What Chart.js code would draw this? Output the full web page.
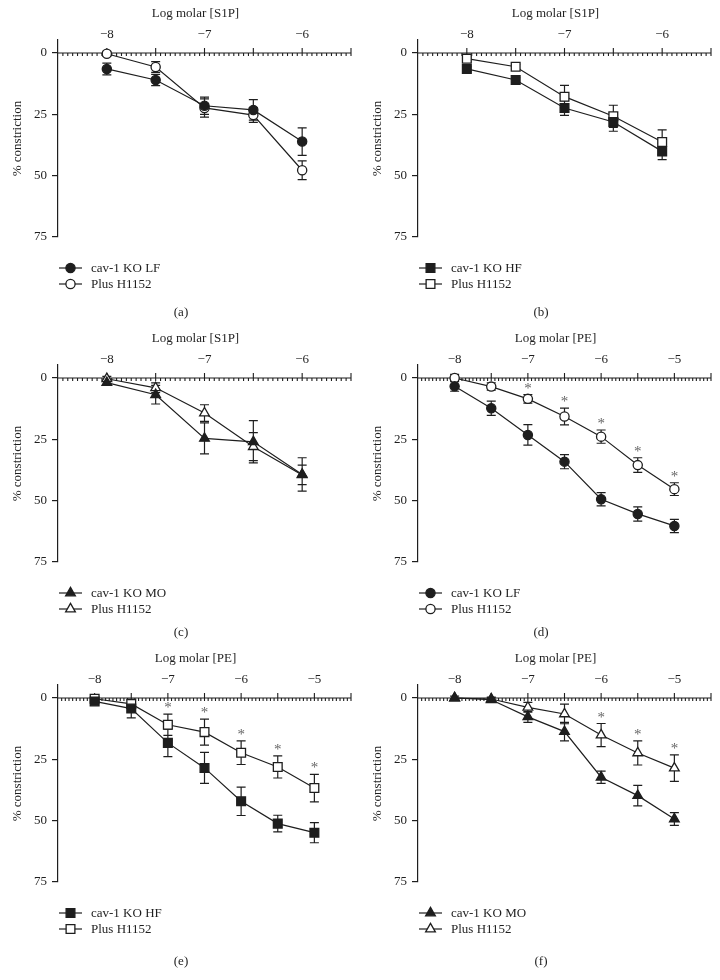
<!DOCTYPE html>
<html>
<head>
<meta charset="utf-8">
<script src="https://cdn.jsdelivr.net/npm/chart.js@4.4.0/dist/chart.umd.min.js"></script>
<style>
  body { margin: 0; background: #fff; }
  #wrap { position: relative; width: 720px; height: 980px; overflow: hidden; }
  #wrap canvas { position: absolute; }
</style>
</head>
<body>
<div id="wrap">
  <canvas id="a" width="360" height="330" style="left:0;top:0"></canvas>
  <canvas id="b" width="360" height="330" style="left:360px;top:0"></canvas>
  <canvas id="c" width="360" height="330" style="left:0;top:325px"></canvas>
  <canvas id="d" width="360" height="330" style="left:360px;top:325px"></canvas>
  <canvas id="e" width="360" height="330" style="left:0;top:645px"></canvas>
  <canvas id="f" width="360" height="330" style="left:360px;top:645px"></canvas>
</div>
<script>
// doses (log molar) and axis labels
const doseS1P = [-8, -7.5, -7, -6.5, -6];
const dosePE = [-8, -7.5, -7, -6.5, -6, -5.5, -5];
const labelsS1P = [-8, -7, -6];
const labelsPE = [-8, -7, -6, -5];
const yTicks = [0, 25, 50, 75];

// (a) S1P, LF
const aLF = [6.5, 11.0, 21.5, 23.2, 36.1];
const aLFErr = [2.4, 2.3, 3.5, 4.2, 5.6];
const aPlus = [0.3, 5.7, 22.4, 25.3, 47.8];
const aPlusErr = [1.0, 2.2, 3.7, 3.0, 3.8];

// (b) S1P, HF
const bHF = [6.5, 11.0, 22.4, 28.1, 40.1];
const bHFErr = [1.0, 1.0, 3.0, 3.8, 3.4];
const bPlus = [2.3, 5.6, 17.8, 25.8, 36.3];
const bPlusErr = [1.0, 1.0, 4.6, 4.5, 5.0];

// (c) S1P, MO
const cMO = [1.9, 6.8, 24.6, 26.0, 39.3];
const cMOErr = [1.0, 3.8, 6.3, 8.6, 6.8];
const cPlus = [0.3, 4.0, 14.3, 28.0, 39.5];
const cPlusErr = [1.0, 2.0, 3.4, 5.7, 4.0];

// (d) PE, LF
const dLF = [3.4, 12.3, 23.2, 34.1, 49.4, 55.4, 60.3];
const dLFErr = [2.0, 2.9, 4.2, 2.9, 2.7, 2.9, 2.7];
const dPlus = [0.0, 3.5, 8.5, 15.7, 23.9, 35.5, 45.3];
const dPlusErr = [1.5, 1.5, 1.7, 3.4, 2.7, 3.0, 2.6];
const dStars = [false, false, true, true, true, true, true];

// (e) PE, HF
const eHF = [1.4, 4.3, 18.3, 28.5, 42.1, 51.2, 54.9];
const eHFErr = [1.0, 3.8, 5.6, 6.3, 5.8, 3.4, 4.1];
const ePlus = [0.3, 2.4, 10.9, 13.9, 22.3, 28.1, 36.7];
const ePlusErr = [1.0, 1.5, 4.3, 5.3, 4.8, 4.5, 5.6];
const eStars = [false, false, true, true, true, true, true];

// (f) PE, MO
const fMO = [0.0, 0.7, 7.7, 13.7, 32.3, 39.8, 49.3];
const fMOErr = [0.8, 0.8, 2.2, 3.8, 2.5, 4.2, 2.6];
const fPlus = [0.0, 0.4, 3.8, 6.5, 15.1, 22.4, 28.6];
const fPlusErr = [0.8, 0.8, 2.0, 4.0, 4.7, 4.9, 5.4];
const fStars = [false, false, false, false, true, true, true];

const INK = '#1e1e1e';
const FONT = '"Liberation Serif", "DejaVu Serif", serif';

const markerSize = { circle: 4.6, rect: 6.2, triangle: 5.6 };

const panelPlugin = {
  id: 'panel',
  beforeDatasetsDraw(chart) {
    const { ctx, chartArea: ca, scales: { x, y } } = chart;
    const y0 = y.getPixelForValue(0);
    ctx.save();
    ctx.strokeStyle = INK;
    ctx.lineWidth = 1.1;
    ctx.beginPath();
    ctx.moveTo(ca.left, y0);
    ctx.lineTo(ca.right, y0);
    // little ticks every 0.05, bigger ones every half log unit
    const nMinor = Math.round((x.max - x.min) / 0.05);
    for (let i = 1; i <= nMinor; i++) {
      const px = x.getPixelForValue(x.min + i * 0.05);
      ctx.moveTo(px, y0);
      ctx.lineTo(px, y0 + 3);
    }
    const nMajor = Math.round((x.max - x.min) / 0.5);
    for (let i = 1; i <= nMajor; i++) {
      const px = x.getPixelForValue(x.min + i * 0.5);
      ctx.moveTo(px, y0);
      ctx.lineTo(px, y0 - 5);
    }
    ctx.stroke();

    // error bars (SEM)
    ctx.lineWidth = 1.2;
    ctx.beginPath();
    chart.data.datasets.forEach((ds, di) => {
      chart.getDatasetMeta(di).data.forEach((pt, i) => {
        const e = ds.err[i];
        const m = ds.data[i].y;
        const top = y.getPixelForValue(m - e);
        const bot = y.getPixelForValue(m + e);
        ctx.moveTo(pt.x, top); ctx.lineTo(pt.x, bot);
        ctx.moveTo(pt.x - 4.5, top); ctx.lineTo(pt.x + 4.5, top);
        ctx.moveTo(pt.x - 4.5, bot); ctx.lineTo(pt.x + 4.5, bot);
      });
    });
    ctx.stroke();
    ctx.restore();
  },
  afterDraw(chart, args, opts) {
    const { ctx, chartArea: ca, scales: { x, y } } = chart;
    const y0 = y.getPixelForValue(0);
    ctx.save();
    ctx.fillStyle = INK;
    ctx.font = '13px ' + FONT;
    ctx.textAlign = 'center';
    ctx.textBaseline = 'middle';
    opts.xLabels.forEach(v => {
      ctx.fillText('\u2212' + Math.abs(v), x.getPixelForValue(v), y0 - 18);
    });
    ctx.fillText(opts.xTitle, (ca.left + ca.right) / 2 - 9, y0 - 39);

    // significance stars
    ctx.fillStyle = '#666';
    ctx.font = '15px ' + FONT;
    ctx.textBaseline = 'alphabetic';
    chart.data.datasets.forEach((ds, di) => {
      if (!ds.stars) return;
      chart.getDatasetMeta(di).data.forEach((pt, i) => {
        if (!ds.stars[i]) return;
        const top = y.getPixelForValue(ds.data[i].y - ds.err[i]);
        ctx.fillText('*', pt.x, top - 2);
      });
    });

    // legend
    ctx.textAlign = 'left';
    ctx.textBaseline = 'middle';
    chart.data.datasets.forEach((ds, di) => {
      const ly = 268 + di * 16;
      ctx.strokeStyle = INK;
      ctx.lineWidth = 1.2;
      ctx.beginPath();
      ctx.moveTo(59, ly);
      ctx.lineTo(82, ly);
      ctx.stroke();
      ctx.fillStyle = ds.pointBackgroundColor;
      ctx.strokeStyle = INK;
      ctx.lineWidth = ds.pointBorderWidth;
      Chart.helpers.drawPoint(ctx, {
        pointStyle: ds.pointStyle, radius: ds.pointRadius, rotation: 0,
        borderWidth: ds.pointBorderWidth
      }, 70.5, ly);
      ctx.fillStyle = INK;
      ctx.font = '13px ' + FONT;
      ctx.fillText(ds.label, 91, ly + 0.5);
    });

    ctx.textAlign = 'center';
    ctx.fillText(opts.caption, 181, opts.captionY);
    ctx.restore();
  }
};

function series(label, dose, vals, err, style, filled, stars) {
  return {
    label,
    data: dose.map((d, i) => ({ x: d, y: vals[i] })),
    err,
    stars,
    borderColor: INK,
    borderWidth: 1.2,
    tension: 0,
    fill: false,
    pointStyle: style,
    pointRadius: markerSize[style],
    pointHoverRadius: markerSize[style],
    pointBorderWidth: 1.3,
    pointBorderColor: INK,
    pointBackgroundColor: filled ? INK : '#fff',
    backgroundColor: filled ? INK : '#fff'
  };
}

function makePanel(id, xMax, xTitle, xLabels, caption, captionY, datasets) {
  new Chart(document.getElementById(id), {
    type: 'line',
    data: { datasets },
    plugins: [panelPlugin],
    options: {
      responsive: false,
      animation: false,
      devicePixelRatio: 1,
      layout: { padding: { top: 40, right: 9, bottom: 93, left: 0 } },
      scales: {
        x: { type: 'linear', min: -8.5, max: xMax, display: false },
        y: {
          type: 'linear', min: -5.3, max: 75, reverse: true,
          afterBuildTicks: s => { s.ticks = yTicks.map(v => ({ value: v })); },
          afterFit: s => { s.width = 58; },
          grid: { drawOnChartArea: false, drawTicks: true, tickLength: 6, color: INK, lineWidth: 1.2 },
          border: { display: true, color: INK, width: 1.2 },
          ticks: { color: INK, padding: 5, font: { family: FONT, size: 13 } },
          title: {
            display: true, text: '% constriction', color: INK,
            font: { family: FONT, size: 13 }, padding: { top: 10, bottom: 0 }
          }
        }
      },
      plugins: {
        legend: { display: false },
        tooltip: { enabled: false },
        panel: { xTitle, xLabels, caption, captionY }
      }
    }
  });
}

makePanel('a', -5.5, 'Log molar [S1P]', labelsS1P, '(a)', 313, [
  series('cav-1 KO LF', doseS1P, aLF, aLFErr, 'circle', true),
  series('Plus H1152', doseS1P, aPlus, aPlusErr, 'circle', false)
]);
makePanel('b', -5.5, 'Log molar [S1P]', labelsS1P, '(b)', 313, [
  series('cav-1 KO HF', doseS1P, bHF, bHFErr, 'rect', true),
  series('Plus H1152', doseS1P, bPlus, bPlusErr, 'rect', false)
]);
makePanel('c', -5.5, 'Log molar [S1P]', labelsS1P, '(c)', 308, [
  series('cav-1 KO MO', doseS1P, cMO, cMOErr, 'triangle', true),
  series('Plus H1152', doseS1P, cPlus, cPlusErr, 'triangle', false)
]);
makePanel('d', -4.5, 'Log molar [PE]', labelsPE, '(d)', 308, [
  series('cav-1 KO LF', dosePE, dLF, dLFErr, 'circle', true),
  series('Plus H1152', dosePE, dPlus, dPlusErr, 'circle', false, dStars)
]);
makePanel('e', -4.5, 'Log molar [PE]', labelsPE, '(e)', 317, [
  series('cav-1 KO HF', dosePE, eHF, eHFErr, 'rect', true),
  series('Plus H1152', dosePE, ePlus, ePlusErr, 'rect', false, eStars)
]);
makePanel('f', -4.5, 'Log molar [PE]', labelsPE, '(f)', 317, [
  series('cav-1 KO MO', dosePE, fMO, fMOErr, 'triangle', true),
  series('Plus H1152', dosePE, fPlus, fPlusErr, 'triangle', false, fStars)
]);
</script>
</body>
</html>
